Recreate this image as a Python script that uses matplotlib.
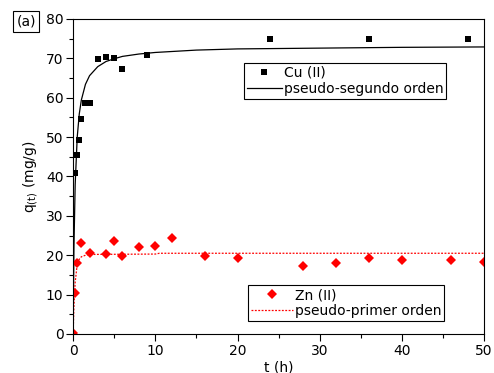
import matplotlib
matplotlib.use('Agg')
import matplotlib.pyplot as plt
from matplotlib.lines import Line2D

plt.rcParams['font.family'] = ['DejaVu Sans']
plt.rcParams['mathtext.fontset'] = 'dejavusans'

# Cu(II) experimental
cu_t = [0.25, 0.33, 0.5, 0.67, 1, 1.5, 2, 3, 4, 5, 6, 9, 24, 36, 48]
cu_q = [40.9, 45.4, 45.4, 49.2, 54.6, 58.7, 58.7, 69.8, 70.4, 70.2, 67.4, 70.8, 74.9, 74.9, 74.9]

# Zn(II) experimental
zn_t = [0, 0.2, 0.5, 1, 2, 4, 5, 6, 8, 10, 12, 16, 20, 28, 32, 36, 40, 46, 50]
zn_q = [0.3, 10.3, 18.1, 23.0, 20.6, 20.2, 23.5, 19.9, 22.1, 22.4, 24.3, 19.9, 19.4, 17.2, 18.1, 19.3, 18.7, 18.8, 18.2]

# pseudo-second order curve (Cu)
fit2_t = [0, 0.1, 0.25, 0.5, 0.75, 1, 1.5, 2, 3, 4, 5, 6, 8, 10, 15, 20, 30, 40, 50]
fit2_q = [0, 22.0, 37.9, 50.0, 55.9, 59.4, 63.4, 65.6, 67.9, 69.2, 69.9, 70.5, 71.1, 71.5, 72.1, 72.4, 72.6, 72.8, 72.9]

# pseudo-first order curve (Zn)
fit1_t = [0, 0.1, 0.25, 0.5, 0.75, 1, 1.5, 2, 10, 10.5, 50]
fit1_q = [0, 6.9, 13.1, 17.7, 19.0, 19.6, 20.0, 20.2, 20.3, 20.5, 20.5]

fig = plt.figure(figsize=(4.94, 3.73), dpi=100)
ax = fig.add_axes([0.148, 0.1046, 0.832, 0.8445])

ax.plot(fit2_t, fit2_q, color='black', lw=0.9)
ax.plot(fit1_t, fit1_q, color='red', lw=0.9, ls=(0, (1.5, 1.2)))
ax.plot(cu_t, cu_q, 's', color='black', ms=4.2, mew=0)
ax.plot(zn_t, zn_q, 'D', color='red', ms=4.6, mew=0)

ax.set_xlim(0, 50)
ax.set_ylim(0, 80)
ax.set_xticks(range(0, 51, 10))
ax.set_xticks(range(5, 50, 10), minor=True)
ax.set_yticks(range(0, 81, 10))
ax.set_yticks(range(5, 80, 10), minor=True)
ax.tick_params(which='major', direction='out', length=5, width=0.8, labelsize=10, pad=2)
ax.tick_params(which='minor', direction='out', length=3, width=0.8)
for s in ax.spines.values():
    s.set_linewidth(0.8)

ax.set_xlabel('t (h)', fontsize=10, labelpad=2)
ax.set_ylabel(r'q$_\mathregular{(t)}$ (mg/g)', fontsize=10, labelpad=4)

h_cu = [Line2D([], [], marker='s', color='black', ls='none', ms=4.2, mew=0),
        Line2D([], [], color='black', lw=0.9)]
leg1 = ax.legend(h_cu, ['Cu (II)', 'pseudo-segundo orden'], loc='upper left',
                 bbox_to_anchor=(0.416, 0.860), borderaxespad=0, fancybox=False,
                 edgecolor='black', framealpha=1, fontsize=10, handlelength=2.5,
                 handletextpad=0.15, borderpad=0.2, labelspacing=0.15)
leg1.get_frame().set_linewidth(0.8)
ax.add_artist(leg1)

h_zn = [Line2D([], [], marker='D', color='red', ls='none', ms=4.6, mew=0),
        Line2D([], [], color='red', lw=0.9, ls=(0, (1.5, 1.2)))]
leg2 = ax.legend(h_zn, ['Zn (II)', 'pseudo-primer orden'], loc='lower left',
                 bbox_to_anchor=(0.426, 0.041), borderaxespad=0, fancybox=False,
                 edgecolor='black', framealpha=1, fontsize=10, handlelength=3.0,
                 handletextpad=0.15, borderpad=0.2, labelspacing=0.15)
leg2.get_frame().set_linewidth(0.8)

fig.text(0.053, 0.943, '(a)', fontsize=10, va='center', ha='center',
         bbox=dict(boxstyle='square,pad=0.25', fc='white', ec='black', lw=0.8))

fig.savefig('out.png', dpi=100)
